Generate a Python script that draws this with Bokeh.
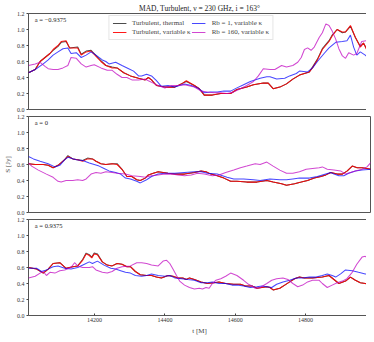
from bokeh.plotting import figure
from bokeh.layouts import column
from bokeh.models import Range1d, FixedTicker, PrintfTickFormatter, Legend, LegendItem, Label
from bokeh.embed import file_html
from bokeh.resources import INLINE

FONT = "Liberation Serif"

# ---------------- data ----------------
title_text = "MAD, Turbulent, ν = 230 GHz, i = 163°"
series_names = ["Turbulent, thermal", "Turbulent, variable κ", "Rb = 1, variable κ", "Rb = 160, variable κ"]
panel_labels = ["a = −0.9375", "a = 0", "a = 0.9375"]
x_ticks = [14200, 14400, 14600, 14800]
y_ticks = [0.0, 0.2, 0.4, 0.6, 0.8, 1.0, 1.2]

# panel 1 : a = -0.9375
t_red1 = [14012,14031,14045,14059,14073,14082,14096,14105,14119,14129,14152,14162,14176,14190,14218,14232,14250,14264,14283,14302,14325,14344,14353,14362,14376,14400,14428,14451,14461,14484,14498,14512,14535,14559,14587,14605,14633,14652,14680,14694,14708,14727,14746,14764,14783,14797,14811,14820,14834,14848,14867,14876,14890,14905,14914,14928,14942,14956,14965,14974,14987]
s_red1 = [0.46,0.50,0.60,0.65,0.70,0.75,0.80,0.85,0.86,0.77,0.77,0.68,0.72,0.73,0.60,0.55,0.52,0.52,0.46,0.42,0.39,0.37,0.40,0.37,0.30,0.28,0.28,0.33,0.36,0.30,0.26,0.18,0.18,0.20,0.20,0.25,0.28,0.31,0.33,0.33,0.26,0.28,0.32,0.38,0.43,0.45,0.47,0.52,0.62,0.75,0.85,0.92,1.00,0.97,0.97,1.05,0.90,0.78,0.83,0.75,0.65]
s_blk1 = [0.46,0.50,0.60,0.65,0.70,0.74,0.79,0.84,0.85,0.77,0.78,0.69,0.73,0.74,0.61,0.55,0.53,0.52,0.46,0.42,0.39,0.37,0.40,0.37,0.30,0.28,0.28,0.33,0.35,0.30,0.26,0.18,0.18,0.20,0.20,0.25,0.28,0.31,0.33,0.33,0.26,0.28,0.32,0.38,0.43,0.45,0.47,0.53,0.63,0.76,0.86,0.93,1.00,0.96,0.97,1.04,0.90,0.79,0.83,0.76,0.66]
t_blu1 = [14012,14031,14054,14068,14082,14096,14110,14124,14133,14148,14162,14176,14190,14204,14222,14232,14241,14260,14278,14297,14311,14325,14334,14348,14362,14376,14390,14409,14428,14456,14475,14493,14512,14531,14549,14568,14587,14605,14624,14643,14671,14690,14699,14718,14741,14755,14774,14783,14806,14820,14834,14853,14867,14886,14905,14918,14928,14937,14946,14956,14970,14987]
s_blu1 = [0.46,0.50,0.57,0.62,0.68,0.72,0.76,0.77,0.70,0.71,0.65,0.68,0.72,0.68,0.62,0.60,0.57,0.59,0.55,0.51,0.48,0.42,0.42,0.44,0.42,0.36,0.29,0.30,0.28,0.32,0.30,0.27,0.21,0.22,0.22,0.23,0.23,0.27,0.31,0.35,0.39,0.41,0.41,0.38,0.39,0.42,0.45,0.48,0.47,0.52,0.60,0.70,0.77,0.84,0.85,0.86,0.93,0.78,0.68,0.72,0.68,0.62]
t_mag1 = [14012,14031,14045,14059,14068,14082,14096,14110,14124,14133,14148,14162,14176,14190,14199,14218,14236,14250,14264,14278,14292,14306,14325,14344,14353,14367,14381,14400,14419,14437,14456,14484,14503,14521,14540,14559,14577,14596,14615,14633,14652,14666,14680,14699,14713,14732,14746,14764,14778,14788,14797,14806,14816,14825,14839,14848,14858,14867,14876,14886,14895,14905,14914,14923,14937,14946,14960,14974,14987]
s_mag1 = [0.55,0.57,0.59,0.54,0.51,0.50,0.50,0.52,0.55,0.65,0.64,0.57,0.53,0.55,0.56,0.52,0.49,0.49,0.44,0.40,0.40,0.37,0.37,0.38,0.36,0.33,0.30,0.27,0.30,0.30,0.31,0.28,0.23,0.22,0.21,0.21,0.20,0.22,0.26,0.30,0.35,0.42,0.51,0.50,0.50,0.55,0.53,0.55,0.59,0.65,0.75,0.77,0.74,0.78,0.90,0.96,1.07,1.05,0.98,0.88,0.76,0.67,0.64,0.71,0.68,0.70,0.85,0.86,0.66]

# panel 2 : a = 0
t_red2 = [14012,14031,14054,14068,14082,14096,14115,14124,14138,14152,14166,14180,14194,14204,14218,14232,14250,14264,14278,14292,14306,14320,14330,14344,14353,14367,14381,14395,14409,14428,14456,14484,14503,14517,14531,14549,14568,14587,14605,14633,14662,14690,14708,14732,14746,14769,14788,14806,14825,14844,14858,14872,14890,14905,14919,14933,14947,14961,14975,14987]
s_red2 = [0.61,0.60,0.60,0.59,0.56,0.59,0.66,0.70,0.67,0.66,0.64,0.67,0.67,0.64,0.61,0.60,0.61,0.60,0.54,0.45,0.45,0.41,0.40,0.43,0.47,0.49,0.51,0.50,0.49,0.48,0.48,0.50,0.52,0.51,0.48,0.46,0.43,0.39,0.39,0.38,0.38,0.40,0.38,0.36,0.34,0.36,0.38,0.40,0.43,0.45,0.47,0.50,0.48,0.48,0.52,0.58,0.56,0.56,0.55,0.54]
s_blk2 = [0.61,0.60,0.60,0.59,0.56,0.59,0.66,0.71,0.67,0.66,0.65,0.68,0.67,0.64,0.61,0.60,0.61,0.61,0.54,0.45,0.45,0.41,0.40,0.43,0.47,0.49,0.51,0.50,0.49,0.48,0.48,0.50,0.52,0.51,0.48,0.46,0.43,0.39,0.39,0.38,0.38,0.40,0.38,0.36,0.34,0.36,0.38,0.40,0.43,0.45,0.47,0.50,0.48,0.48,0.52,0.58,0.56,0.56,0.55,0.54]
t_blu2 = [14012,14026,14045,14068,14087,14101,14115,14124,14148,14166,14185,14199,14213,14227,14241,14260,14274,14288,14302,14320,14330,14348,14362,14381,14400,14428,14456,14484,14503,14521,14549,14577,14596,14624,14652,14671,14699,14727,14746,14764,14783,14811,14834,14848,14872,14881,14895,14909,14923,14942,14961,14987]
s_blu2 = [0.70,0.67,0.64,0.61,0.57,0.59,0.66,0.69,0.66,0.65,0.62,0.60,0.58,0.55,0.52,0.50,0.48,0.43,0.42,0.39,0.37,0.41,0.45,0.48,0.49,0.49,0.50,0.51,0.51,0.49,0.48,0.44,0.42,0.42,0.41,0.40,0.42,0.41,0.41,0.42,0.43,0.43,0.45,0.47,0.50,0.48,0.46,0.46,0.49,0.52,0.53,0.54]
t_mag2 = [14012,14021,14040,14063,14082,14096,14105,14119,14138,14152,14166,14176,14190,14204,14218,14232,14250,14264,14288,14306,14330,14344,14362,14381,14400,14419,14437,14456,14475,14493,14512,14535,14554,14573,14596,14615,14633,14657,14671,14690,14708,14727,14746,14764,14783,14802,14820,14839,14848,14862,14881,14900,14914,14928,14942,14961,14975,14987]
s_mag2 = [0.62,0.58,0.53,0.48,0.44,0.39,0.38,0.40,0.40,0.41,0.40,0.42,0.48,0.50,0.49,0.51,0.50,0.49,0.48,0.46,0.45,0.44,0.46,0.47,0.48,0.48,0.47,0.46,0.47,0.49,0.48,0.46,0.47,0.50,0.53,0.56,0.58,0.61,0.60,0.63,0.58,0.53,0.49,0.49,0.51,0.54,0.55,0.56,0.57,0.54,0.53,0.52,0.48,0.50,0.52,0.54,0.57,0.63]

# panel 3 : a = 0.9375
t_red3 = [14012,14035,14054,14068,14082,14101,14119,14138,14152,14166,14176,14185,14192,14199,14208,14222,14236,14250,14264,14278,14292,14302,14316,14330,14348,14362,14376,14390,14409,14423,14437,14451,14461,14470,14484,14503,14521,14540,14554,14573,14596,14615,14629,14648,14662,14676,14690,14699,14708,14727,14741,14755,14769,14783,14797,14820,14848,14867,14881,14895,14914,14928,14942,14956,14970,14987]
s_red3 = [0.60,0.58,0.53,0.58,0.65,0.66,0.59,0.61,0.62,0.69,0.77,0.75,0.72,0.77,0.76,0.67,0.63,0.62,0.65,0.64,0.61,0.61,0.55,0.51,0.50,0.50,0.48,0.47,0.50,0.49,0.47,0.47,0.45,0.47,0.45,0.42,0.40,0.41,0.42,0.40,0.39,0.39,0.37,0.37,0.34,0.35,0.36,0.35,0.32,0.34,0.38,0.42,0.46,0.48,0.47,0.47,0.48,0.50,0.45,0.40,0.43,0.48,0.44,0.41,0.40,0.39]
s_blk3 = [0.60,0.58,0.53,0.58,0.65,0.66,0.59,0.61,0.62,0.70,0.78,0.76,0.73,0.78,0.77,0.67,0.63,0.62,0.65,0.64,0.61,0.61,0.55,0.51,0.50,0.50,0.48,0.47,0.50,0.49,0.47,0.47,0.45,0.47,0.45,0.42,0.40,0.41,0.42,0.40,0.39,0.39,0.37,0.37,0.34,0.35,0.36,0.35,0.32,0.34,0.38,0.42,0.46,0.48,0.47,0.47,0.48,0.50,0.45,0.40,0.43,0.48,0.44,0.41,0.40,0.39]
t_blu3 = [14012,14035,14049,14063,14082,14096,14115,14133,14152,14171,14185,14194,14208,14227,14246,14260,14274,14288,14302,14316,14334,14348,14362,14381,14400,14414,14428,14447,14465,14484,14503,14521,14535,14554,14573,14591,14605,14624,14643,14662,14676,14690,14704,14718,14736,14755,14774,14792,14811,14830,14848,14862,14876,14886,14900,14914,14933,14951,14970,14987]
s_blu3 = [0.59,0.59,0.55,0.57,0.61,0.62,0.59,0.58,0.60,0.64,0.67,0.65,0.68,0.63,0.59,0.58,0.56,0.54,0.53,0.50,0.49,0.50,0.52,0.50,0.49,0.50,0.47,0.46,0.45,0.44,0.41,0.41,0.42,0.40,0.40,0.38,0.38,0.37,0.35,0.36,0.37,0.36,0.35,0.39,0.42,0.44,0.47,0.47,0.48,0.48,0.50,0.52,0.50,0.48,0.52,0.57,0.56,0.54,0.52,0.51]
t_mag3 = [14012,14031,14045,14054,14063,14073,14087,14101,14115,14133,14143,14152,14166,14185,14194,14204,14222,14236,14250,14264,14278,14302,14320,14334,14348,14362,14381,14395,14405,14414,14423,14433,14442,14456,14470,14484,14498,14507,14517,14526,14535,14545,14559,14573,14587,14605,14624,14638,14648,14657,14671,14690,14704,14718,14736,14750,14764,14778,14792,14806,14820,14839,14848,14862,14876,14890,14905,14918,14933,14946,14961,14970,14987]
s_mag3 = [0.47,0.49,0.53,0.55,0.50,0.54,0.53,0.56,0.57,0.60,0.66,0.62,0.60,0.60,0.61,0.57,0.54,0.53,0.55,0.59,0.61,0.62,0.66,0.66,0.65,0.63,0.62,0.68,0.69,0.65,0.58,0.50,0.43,0.38,0.35,0.33,0.34,0.33,0.35,0.34,0.40,0.44,0.46,0.49,0.53,0.50,0.44,0.39,0.37,0.34,0.35,0.40,0.44,0.46,0.47,0.45,0.40,0.36,0.38,0.42,0.44,0.44,0.40,0.35,0.38,0.41,0.43,0.46,0.54,0.64,0.73,0.74,0.68]

panels = [
    [(t_red1, s_blk1), (t_red1, s_red1), (t_blu1, s_blu1), (t_mag1, s_mag1)],
    [(t_red2, s_blk2), (t_red2, s_red2), (t_blu2, s_blu2), (t_mag2, s_mag2)],
    [(t_red3, s_blk3), (t_red3, s_red3), (t_blu3, s_blu3), (t_mag3, s_mag3)],
]
colors = ["#000000", "#ff0000", "#0000ff", "#bf00bf"]
alphas = [0.7, 0.9, 0.72, 0.72]

# ---------------- plot ----------------
x_range = Range1d(14012, 14985)
figs = []
for i, series in enumerate(panels):
    top = i == 0
    bottom = i == 2
    kw = dict(frame_width=342, frame_height=96, x_range=x_range, y_range=Range1d(0, 1.2),
              output_backend="svg", toolbar_location=None,
              min_border_left=20, min_border_right=4,
              min_border_top=0 if top else 4, min_border_bottom=18 if bottom else 3)
    if top:
        kw["title"] = title_text
    p = figure(**kw)
    if not top:
        p.title = None
    p.grid.visible = False
    p.outline_line_color = "#555555"
    p.outline_line_width = 1
    p.background_fill_color = "white"

    renderers = []
    for (tt, ss), c, a in zip(series, colors, alphas):
        r = p.line(tt, ss, line_color=c, line_width=1.05, line_alpha=a)
        renderers.append(r)

    for ax in (p.xaxis[0], p.yaxis[0]):
        ax.axis_line_color = None
        ax.minor_tick_line_color = None
        ax.major_tick_line_color = "#444444"
        ax.major_label_text_font = FONT
        ax.major_label_text_font_size = "6px"
        ax.major_label_text_color = "#333333"
        ax.major_label_standoff = 2
        ax.axis_label_text_font = FONT
        ax.axis_label_text_font_size = "7px"
        ax.axis_label_text_font_style = "normal"
        ax.axis_label_standoff = 2
    p.xaxis.major_tick_in = 2
    p.xaxis.major_tick_out = 0
    p.yaxis.major_tick_in = 0
    p.yaxis.major_tick_out = 2

    p.xaxis.ticker = FixedTicker(ticks=x_ticks)
    p.yaxis.ticker = FixedTicker(ticks=y_ticks)
    p.yaxis.formatter = PrintfTickFormatter(format="%.1f")
    if not bottom:
        p.xaxis.visible = False
    else:
        p.xaxis.axis_label = "t [M]"
    if i == 1:
        p.yaxis.axis_label = "S [Jy]"

    p.add_layout(Label(x=14030, y=1.12, text=panel_labels[i], text_font=FONT,
                       text_font_size="6.5px", text_color="#222222", text_baseline="middle"))

    if top:
        p.title.text_font = FONT
        p.title.text_font_size = "7.5px"
        p.title.text_font_style = "normal"
        p.title.align = "center"
        p.title.standoff = 2
        p.title.text_color = "#222222"
        items = [LegendItem(label=n, renderers=[r]) for n, r in zip(series_names, renderers)]
        leg = Legend(items=items, location="top_center", ncols=2,
                     label_text_font=FONT, label_text_font_size="7px",
                     glyph_width=14, glyph_height=6, label_standoff=6,
                     spacing=1, padding=3, margin=2,
                     border_line_color="#cccccc", background_fill_alpha=0.8)
        p.add_layout(leg)
    figs.append(p)

layout = column(*figs, spacing=0)
open("out.html", "w").write(file_html(layout, INLINE))
